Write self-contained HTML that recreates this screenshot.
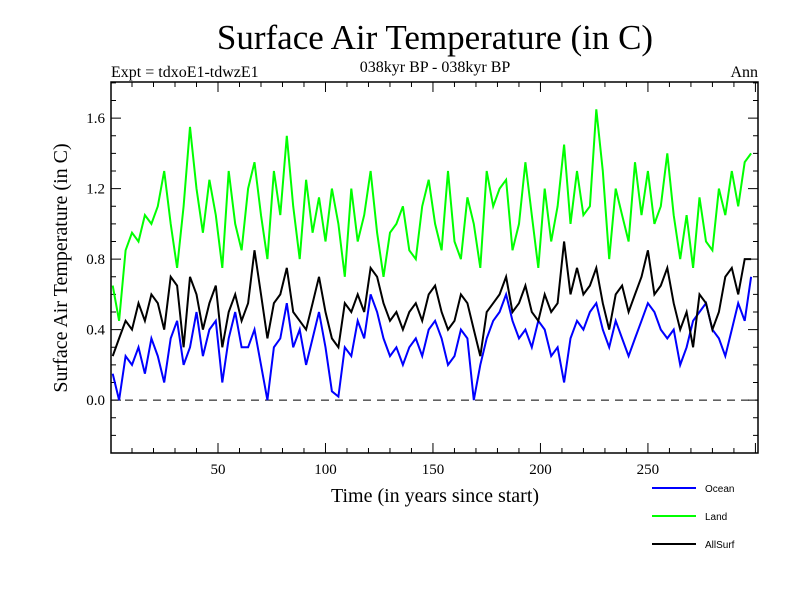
<!DOCTYPE html>
<html><head><meta charset="utf-8"><style>body{margin:0;background:#fff}svg text{font-family:"Liberation Serif",serif}</style></head>
<body>
<svg id="chart" width="800" height="600" xmlns="http://www.w3.org/2000/svg">
<text x="435" y="49" font-size="35" text-anchor="middle">Surface Air Temperature (in C)</text>
<text x="111" y="77" font-size="16">Expt = tdxoE1-tdwzE1</text>
<text x="435" y="72" font-size="16" text-anchor="middle">038kyr BP - 038kyr BP</text>
<text x="758" y="77" font-size="16" text-anchor="end">Ann</text>
<text transform="translate(67,268) rotate(-90)" font-size="20" text-anchor="middle">Surface Air Temperature (in C)</text>
<text x="435" y="502" font-size="20" text-anchor="middle">Time (in years since start)</text>
<g id="axes"></g>
<g id="series"></g>
<rect x="111" y="82" width="647" height="371" fill="none" stroke="#000" stroke-width="1.5"/>
<g id="legend"></g>
</svg>
<script>
const years=[];for(let i=0;i<100;i++)years.push(1+3*i);
const ocean=[0.15,0.0,0.25,0.2,0.3,0.15,0.35,0.25,0.1,0.35,0.45,0.2,0.3,0.5,0.25,0.4,0.45,0.1,0.35,0.5,
0.3,0.3,0.4,0.2,0.0,0.3,0.35,0.55,0.3,0.4,0.2,0.35,0.5,0.3,0.05,0.02,0.3,0.25,0.45,0.35,
0.6,0.5,0.35,0.25,0.3,0.2,0.3,0.35,0.25,0.4,0.45,0.35,0.2,0.25,0.4,0.35,0.0,0.2,0.35,0.45,
0.5,0.6,0.45,0.35,0.4,0.3,0.45,0.4,0.25,0.3,0.1,0.35,0.45,0.4,0.5,0.55,0.4,0.3,0.45,0.35,
0.25,0.35,0.45,0.55,0.5,0.4,0.35,0.4,0.2,0.3,0.45,0.5,0.55,0.4,0.35,0.25,0.4,0.55,0.45,0.7];
const land=[0.65,0.45,0.85,0.95,0.9,1.05,1.0,1.1,1.3,1.0,0.75,1.1,1.55,1.2,0.95,1.25,1.05,0.75,1.3,1.0,
0.85,1.2,1.35,1.05,0.8,1.3,1.05,1.5,1.1,0.8,1.25,0.95,1.15,0.9,1.2,1.0,0.7,1.2,0.9,1.05,
1.3,0.95,0.7,0.95,1.0,1.1,0.85,0.8,1.1,1.25,1.0,0.85,1.3,0.9,0.8,1.15,1.0,0.75,1.3,1.1,
1.2,1.25,0.85,1.0,1.35,1.05,0.75,1.2,0.9,1.1,1.45,1.0,1.3,1.05,1.1,1.65,1.3,0.8,1.2,1.05,
0.9,1.35,1.05,1.3,1.0,1.1,1.4,1.05,0.8,1.05,0.75,1.15,0.9,0.85,1.2,1.05,1.3,1.1,1.35,1.4];
const allsurf=[0.25,0.35,0.45,0.4,0.55,0.45,0.6,0.55,0.4,0.7,0.65,0.3,0.7,0.6,0.4,0.55,0.65,0.3,0.5,0.6,
0.45,0.55,0.85,0.6,0.35,0.55,0.6,0.75,0.5,0.45,0.4,0.55,0.7,0.5,0.35,0.3,0.55,0.5,0.6,0.5,
0.75,0.7,0.55,0.45,0.5,0.4,0.5,0.55,0.45,0.6,0.65,0.5,0.4,0.45,0.6,0.55,0.4,0.25,0.5,0.55,
0.6,0.7,0.5,0.55,0.65,0.5,0.45,0.6,0.5,0.55,0.9,0.6,0.75,0.6,0.65,0.75,0.55,0.4,0.6,0.65,
0.5,0.6,0.7,0.85,0.6,0.65,0.75,0.55,0.4,0.5,0.3,0.6,0.55,0.4,0.5,0.7,0.75,0.6,0.8,0.8];
const yTicks=["0.0","0.4","0.8","1.2","1.6"];
const xTicks=["50","100","150","200","250"];
const seriesNames=["Ocean","Land","AllSurf"];
const seriesColors=["#0000ff","#00ff00","#000000"];

const X0=111,X1=758,Y0=453,Y1=82,xmin=0.23,xmax=301.2,ymin=-0.3,ymax=1.805;
const xs=v=>X0+(v-xmin)/(xmax-xmin)*(X1-X0);
const ys=v=>Y0-(v-ymin)/(ymax-ymin)*(Y0-Y1);
const NS="http://www.w3.org/2000/svg";
function mk(t,a,p){const e=document.createElementNS(NS,t);for(const k in a)e.setAttribute(k,a[k]);p.appendChild(e);return e;}
const ax=document.getElementById('axes');
for(let v=-0.3;v<=1.8001;v+=0.1){const y=ys(v);const major=Math.abs(Math.round(v*10)%4)===0;const L=major?10:5;
 const t1=mk('line',{x1:X0,x2:X0+L,y1:y,y2:y,stroke:'#000'},ax);
 const t2=mk('line',{x1:X1,x2:X1-L,y1:y,y2:y,stroke:'#000'},ax);}
yTicks.forEach(s=>{const t=mk('text',{x:X0-6,y:ys(parseFloat(s))+5,'font-size':15,'text-anchor':'end'},ax);t.textContent=s;
 });
for(let v=10;v<=300;v+=10){const x=xs(v);const L=v%50===0?10:5;
 const t1=mk('line',{x1:x,x2:x,y1:Y0,y2:Y0-L,stroke:'#000'},ax);
 const t2=mk('line',{x1:x,x2:x,y1:Y1,y2:Y1+L,stroke:'#000'},ax);}
xTicks.forEach(s=>{const t=mk('text',{x:xs(+s),y:474,'font-size':15,'text-anchor':'middle'},ax);t.textContent=s;
 });
const zl=mk('line',{x1:X0,x2:X1,y1:ys(0),y2:ys(0),stroke:'#000','stroke-dasharray':'8,6'},ax);

const sg=document.getElementById('series');
[ocean,land,allsurf].forEach((arr,k)=>{const idx=[1,0,2][k];
 const d=arr.map((v,i)=>(i?'L':'M')+xs(years[i]).toFixed(1)+','+ys(v).toFixed(1)).join('');
 const p=mk('path',{d:d,fill:'none',stroke:seriesColors[k],'stroke-width':2},sg);
 });
sg.insertBefore(sg.children[1],sg.children[0]);
const lg=document.getElementById('legend');
seriesNames.forEach((n,k)=>{const y=488+28*k;
 const l=mk('line',{x1:652,x2:696,y1:y,y2:y,stroke:seriesColors[k],'stroke-width':2},lg);
 
 const t=mk('text',{x:705,y:y+4,'font-size':10,style:'font-family:"Liberation Sans",sans-serif'},lg);t.textContent=n;
 });
</script>
</body></html>
